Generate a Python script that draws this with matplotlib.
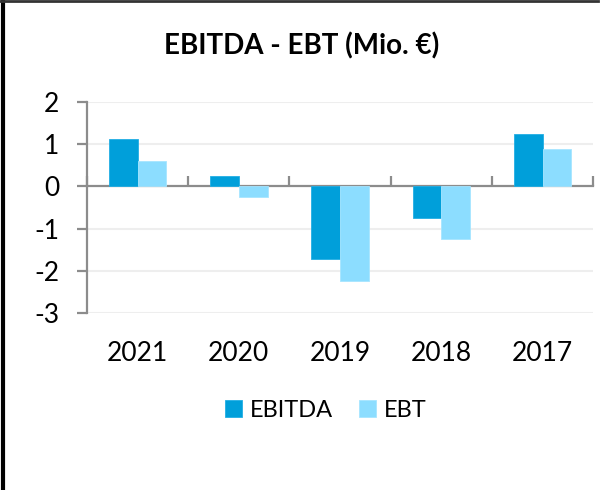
import numpy as np
import matplotlib
matplotlib.use("Agg")
import matplotlib.pyplot as plt
from matplotlib.lines import Line2D

plt.rcParams['font.family'] = ['Lato', 'DejaVu Sans']
plt.rcParams['axes.unicode_minus'] = False

# data
years = ['2021', '2020', '2019', '2018', '2017']
ebitda = [1.13, 0.25, -1.72, -0.76, 1.25]
ebt = [0.59, -0.25, -2.23, -1.24, 0.88]
y_ticks = [-3, -2, -1, 0, 1, 2]

c_ebitda = '#009FDA'
c_ebt = '#8CDDFF'
axis_grey = '#8C8C8C'

fig = plt.figure(figsize=(6.04, 4.90), dpi=100)
ax = fig.add_axes([0.144, 0.361, 0.838, 0.431])

x = np.arange(len(years))
w = 0.284
ax.bar(x - w / 2, ebitda, w, color=c_ebitda, edgecolor='#22AEE4', linewidth=0.6, label='EBITDA', zorder=3)
ax.bar(x + w / 2, ebt, w, color=c_ebt, edgecolor='#A6E5FF', linewidth=0.6, label='EBT', zorder=3)

ax.set_xlim(-0.5, len(years) - 0.5)
ax.set_ylim(-3, 2)
ax.set_yticks(y_ticks)
ax.set_yticklabels([str(v) for v in y_ticks])
ax.set_xticks(x)
ax.set_xticklabels(years)

for v in y_ticks:
    if v != 0:
        ax.axhline(v, color='#EEEEEE', linewidth=1.5, zorder=1)

for s in ['top', 'right', 'bottom']:
    ax.spines[s].set_visible(False)
ax.spines['left'].set_color(axis_grey)
ax.spines['left'].set_linewidth(1.6)
ax.tick_params(axis='y', direction='out', length=7, width=1.6, color=axis_grey,
               labelsize=19, pad=13)
ax.tick_params(axis='x', length=0, labelsize=19, pad=20)

# category axis drawn at zero with ticks between categories
zero_pos = (0 - (-3)) / 5
sec = ax.secondary_xaxis(zero_pos)
sec.set_xticks(np.arange(-0.5, len(years), 1.0))
sec.set_xticklabels([])
for s in sec.spines.values():
    s.set_color(axis_grey)
    s.set_linewidth(1.6)
sec.tick_params(axis='x', direction='out', length=7, width=1.6, color=axis_grey)

fig.text(0.5, 0.907, 'EBITDA - EBT (Mio. €)', ha='center', va='center',
         fontsize=20, fontweight='bold')

ax.legend(loc='center', bbox_to_anchor=(0.472, -0.46), ncol=2, frameon=False,
          fontsize=17, handlelength=0.72, handleheight=0.72, handletextpad=0.35,
          columnspacing=1.1, borderaxespad=0)

# frame lines along the left and top edge
fig.add_artist(Line2D([0.005, 0.005], [0, 1], transform=fig.transFigure, color='black', linewidth=3))
fig.add_artist(Line2D([0.0, 0.99], [0.997, 0.997], transform=fig.transFigure, color='#333333', linewidth=2))

fig.savefig('out.png', dpi=100)
